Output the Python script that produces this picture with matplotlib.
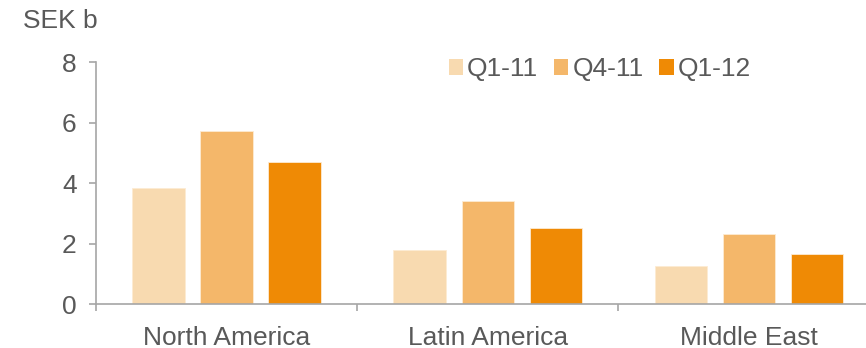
import numpy as np
import matplotlib
matplotlib.use('Agg')
import matplotlib.pyplot as plt

plt.rcParams['font.family'] = ['Liberation Sans', 'DejaVu Sans']

regions = ['North America', 'Latin America', 'Middle East']
quarters = ['Q1-11', 'Q4-11', 'Q1-12']
q1_11 = [3.83, 1.79, 1.27]
q4_11 = [5.72, 3.41, 2.30]
q1_12 = [4.69, 2.50, 1.64]
colors = ['#F8DAB0', '#F4B76A', '#EF8A05']
text_grey = '#595959'
axis_grey = '#A6A6A6'

fig = plt.figure(figsize=(8.66, 3.48), dpi=100)
# the plot area runs a little past the right edge of the figure
ax = fig.add_axes([0.1109, 0.1264, 0.9047, 0.6954])

x = np.arange(len(regions))
width = 0.201
step = 0.2605
for i, (vals, name) in enumerate(zip([q1_11, q4_11, q1_12], quarters)):
    ax.bar(x + (i - 1) * step, vals, width, color=colors[i], label=name,
           edgecolor='#FDEBD3', linewidth=0.6)

ax.set_ylim(0, 8)
ax.set_xlim(-0.5, 2.5)
ax.set_yticks([0, 2, 4, 6, 8])
ax.set_xticks(x)
ax.set_xticklabels(regions)
ax.set_xticks([-0.5, 0.5, 1.5], minor=True)

for side in ['top', 'right']:
    ax.spines[side].set_visible(False)
for side in ['left', 'bottom']:
    ax.spines[side].set_color(axis_grey)
    ax.spines[side].set_linewidth(1.2)

ax.tick_params(axis='y', colors=axis_grey, labelcolor=text_grey, labelsize=19,
               length=5, width=1.2, pad=9)
ax.tick_params(axis='x', which='major', length=0, labelcolor=text_grey,
               labelsize=19, pad=15.5)
ax.tick_params(axis='x', which='minor', length=5, width=1.2, colors=axis_grey)

fig.text(0.027, 0.94, 'SEK b', fontsize=19, color=text_grey, va='center')

leg = ax.legend(loc='center', bbox_to_anchor=(0.643, 0.971), ncol=3,
                frameon=False, fontsize=19, handlelength=0.55, handleheight=0.55,
                handletextpad=0.15, columnspacing=0.6, labelcolor=text_grey,
                borderpad=0)
for h in leg.legend_handles:
    h.set_linewidth(0)

fig.savefig('out.png', dpi=100)
